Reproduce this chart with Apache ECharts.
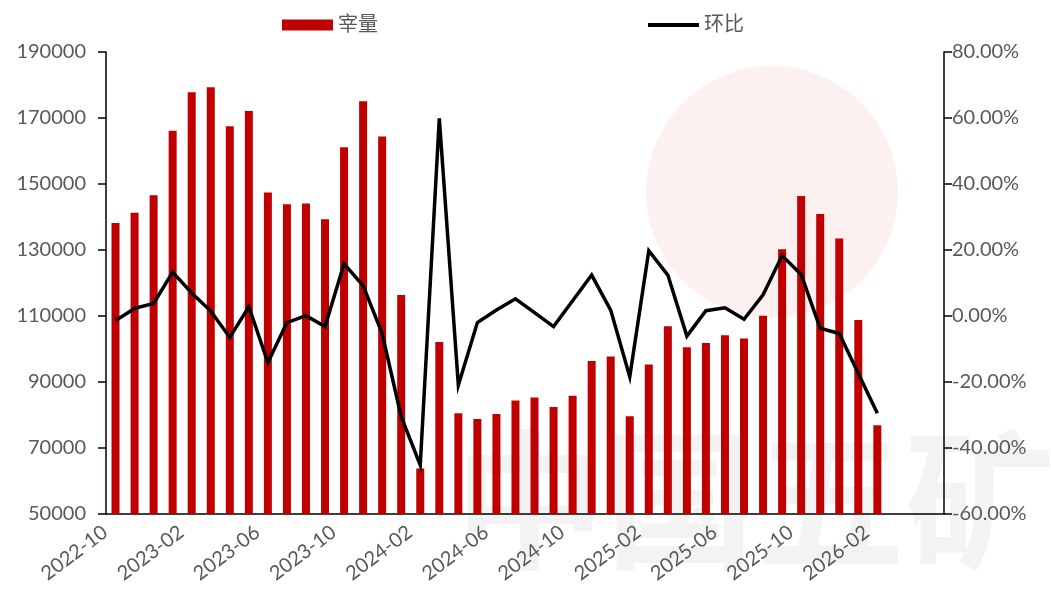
<!DOCTYPE html>
<html>
<head>
  <meta charset="UTF-8">
  <title>宰量 环比</title>
  <script type="text/javascript" src="https://cdn.jsdelivr.net/npm/echarts@6/dist/echarts.min.js"></script>
  <style>
    html, body { margin: 0; padding: 0; background: #fff; }
  </style>
</head>
<body>
<div id="main" style="width:1051px; height:593px;"></div>
<script>
  // ============数据============
  const months = [
    '2022-10', '2022-11', '2022-12', '2023-01', '2023-02', '2023-03', '2023-04', '2023-05',
    '2023-06', '2023-07', '2023-08', '2023-09', '2023-10', '2023-11', '2023-12', '2024-01',
    '2024-02', '2024-03', '2024-04', '2024-05', '2024-06', '2024-07', '2024-08', '2024-09',
    '2024-10', '2024-11', '2024-12', '2025-01', '2025-02', '2025-03', '2025-04', '2025-05',
    '2025-06', '2025-07', '2025-08', '2025-09', '2025-10', '2025-11', '2025-12', '2026-01',
    '2026-02', '2026-03', '2026-04', '2026-05'
  ];
  // 宰量
  const volume = [
    138200, 141300, 146600, 166100, 177800, 179300, 167500, 172100,
    147400, 143900, 144100, 139300, 161100, 175100, 164400, 116400,
    63800, 102100, 80500, 78800, 80300, 84400, 85300, 82400,
    85800, 96400, 97700, 79600, 95300, 106900, 100500, 101800,
    104200, 103200, 110100, 130200, 146400, 140900, 133500, 108800,
    76900, null, null, null
  ];
  // 环比 (%)
  const mom = [
    -1.4, 2.3, 3.8, 13.3, 7.0, 1.5, -6.5, 2.8,
    -14.1, -2.0, 0.1, -3.2, 15.8, 9.2, -5.3, -30.5,
    -45.2, 59.9, -21.0, -2.0, 1.8, 5.2, 1.0, -3.2,
    4.6, 12.4, 1.8, -18.4, 19.8, 12.4, -6.1, 1.6,
    2.5, -1.0, 6.4, 18.3, 12.6, -3.7, -5.3, -17.4,
    -29.5, null, null, null
  ];

  const font = 'Lato, "Noto Sans CJK SC", sans-serif';
  const grey = '#595959';

  let chart = echarts.init(document.getElementById('main'), null, {renderer: 'canvas'});

  chart.setOption({
    animation: false,
    backgroundColor: '#fff',
    // 水印
    graphic: [
      {
        type: 'circle', z: -10, silent: true,
        shape: {cx: 772, cy: 192, r: 126},
        style: {fill: 'rgba(214, 60, 60, 0.08)'}
      },
      {
        type: 'text', z: -10, silent: true, left: 455, top: 425,
        style: {text: '中国五矿', fill: '#f3f3f3', font: 'bold 150px "Noto Sans CJK SC"'}
      }
    ],
    legend: {
      left: 277, top: 10,
      itemWidth: 51, itemHeight: 11, itemGap: 268,
      textStyle: {color: grey, fontSize: 20, fontFamily: font},
      data: [
        {name: '宰量', icon: 'rect'},
        {name: '环比', itemStyle: {opacity: 0}, lineStyle: {width: 4, color: '#000'}}
      ]
    },
    grid: {left: 106, right: 107, top: 52, bottom: 79, containLabel: false},
    xAxis: {
      type: 'category',
      data: months,
      axisLine: {onZero: false, lineStyle: {color: '#000', width: 1.5}},
      axisTick: {interval: 3, length: 8, lineStyle: {color: '#000', width: 1.5}},
      axisLabel: {
        interval: 3, rotate: 37, margin: 8, padding: [0, 13, 0, 0],
        color: grey, fontSize: 20, fontFamily: font
      },
      splitLine: {show: false}
    },
    yAxis: [
      {
        type: 'value', min: 50000, max: 190000, interval: 20000,
        axisLine: {show: true, lineStyle: {color: '#000', width: 1.5}},
        axisTick: {show: true, length: 8, lineStyle: {color: '#000', width: 1.5}},
        axisLabel: {
          color: grey, fontSize: 20, fontFamily: font, margin: 20,
          formatter: v => String(v)
        },
        splitLine: {show: false}
      },
      {
        type: 'value', min: -60, max: 80, interval: 20,
        axisLine: {show: true, lineStyle: {color: '#000', width: 1.5}},
        axisTick: {show: true, length: 8, lineStyle: {color: '#000', width: 1.5}},
        axisLabel: {
          color: grey, fontSize: 20, fontFamily: font, margin: 8,
          formatter: v => v.toFixed(2) + '%'
        },
        splitLine: {show: false}
      }
    ],
    series: [
      {
        name: '宰量', type: 'bar', yAxisIndex: 0,
        data: volume, barWidth: 8,
        itemStyle: {color: '#C00000'}
      },
      {
        name: '环比', type: 'line', yAxisIndex: 1,
        data: mom, symbol: 'none', z: 3,
        lineStyle: {color: '#000', width: 3.5, join: 'miter'},
        itemStyle: {color: '#000'}
      }
    ]
  });
</script>
</body>
</html>
